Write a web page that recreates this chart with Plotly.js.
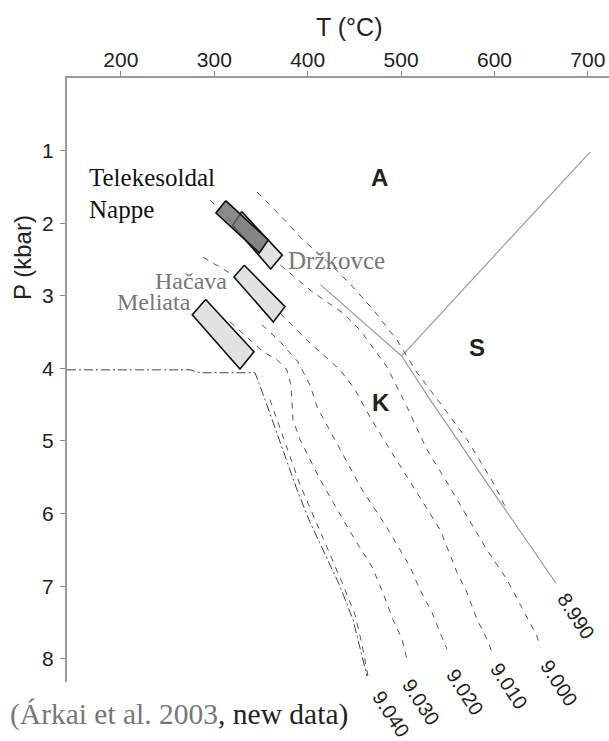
<!DOCTYPE html>
<html><head><meta charset="utf-8">
<script src="https://cdn.plot.ly/plotly-3.0.1.min.js"></script>
<style>html,body{margin:0;padding:0;background:#fff}#c{width:609px;height:741px}</style>
</head><body><div id="c"></div>
<script>
// ---- data (T in °C, P in kbar) ----
const T_ticks = [200, 300, 400, 500, 600, 700];
const P_ticks = [1, 2, 3, 4, 5, 6, 7, 8];

// Al2SiO5 phase boundaries (A = andalusite, K = kyanite, S = sillimanite)
const SA_T = [500.6, 702.3];               const SA_P = [3.83, 1.02];
const KA_T = [413.9, 500.6];               const KA_P = [2.85, 3.83];
const KS_T = [500.6, 531.0, 598.4, 665.9]; const KS_P = [3.83, 4.43, 5.70, 6.96];

// b0 isolines (Å)
const iso_labels = ["8.990", "9.000", "9.010", "9.020", "9.030", "9.040"];
const iso8990_T = [345.7, 370.3, 395.0, 427.1, 448.5, 469.9, 495.6, 517.0, 544.9, 570.6, 598.4, 611.3];
const iso8990_P = [1.57, 1.89, 2.23, 2.60, 2.88, 3.19, 3.61, 4.06, 4.53, 4.98, 5.57, 5.90];
const iso9000_T = [295.4, 320.0, 343.6, 368.2, 402.5, 437.8, 456.0, 484.9, 506.3, 527.7, 549.2, 570.6, 592.0, 613.4, 630.5, 645.5, 648.7];
const iso9000_P = [1.68, 2.00, 2.30, 2.55, 2.92, 3.24, 3.47, 3.98, 4.53, 5.12, 5.57, 6.04, 6.50, 6.91, 7.32, 7.69, 7.84];
const iso9010_T = [287.9, 308.2, 332.9, 370.3, 402.5, 434.6, 450.6, 466.7, 488.1, 514.9, 541.7, 559.9, 570.6, 581.3, 592.0, 597.3];
const iso9010_P = [2.47, 2.62, 2.82, 3.24, 3.65, 4.02, 4.29, 4.67, 5.12, 5.67, 6.22, 6.81, 7.09, 7.46, 7.73, 7.91];
const iso9020_T = [351.1, 370.3, 389.6, 402.5, 410.0, 434.6, 458.1, 482.8, 509.5, 520.2, 533.1, 541.7, 549.2];
const iso9020_P = [3.40, 3.63, 3.91, 4.23, 4.53, 5.12, 5.67, 6.15, 6.73, 7.05, 7.36, 7.64, 7.87];
const iso9030_T = [316.8, 335.0, 352.1, 367.1, 377.8, 382.1, 384.3, 391.7, 413.2, 434.6, 450.6, 468.8, 480.6, 491.3, 501.0, 506.3];
const iso9030_P = [3.36, 3.57, 3.77, 3.88, 4.02, 4.23, 4.71, 4.98, 5.53, 6.01, 6.36, 6.73, 7.09, 7.46, 7.73, 8.01];
const iso9040_T = [359.6, 375.7, 391.7, 407.8, 423.9, 437.8, 450.6, 458.1, 464.6];
const iso9040_P = [4.43, 5.02, 5.60, 6.08, 6.56, 6.98, 7.39, 7.80, 8.24];

// dash-dot limit line
const lim_T = [142.3, 274.0, 284.7, 343.6, 354.3, 370.3, 388.5, 402.5, 420.7, 434.6, 448.5, 463.5];
const lim_P = [4.02, 4.02, 4.06, 4.06, 4.43, 5.02, 5.67, 6.12, 6.63, 7.00, 7.46, 8.24];

// P-T boxes (rotated rectangles: top, right, bottom, left corner)
const box_names = ["Držkovce", "Telekesoldal Nappe", "Hačava", "Meliata"];
const drz_T = [329.3, 372.8, 360.4, 319.7, 329.3];  const drz_P = [1.84, 2.44, 2.63, 2.03, 1.84];
const tel_T = [312.2, 357.8, 348.2, 301.8, 312.2];  const tel_P = [1.69, 2.23, 2.41, 1.86, 1.69];
const hac_T = [332.1, 375.7, 363.2, 321.1, 332.1];  const hac_P = [2.58, 3.15, 3.36, 2.74, 2.58];
const mel_T = [290.8, 342.5, 327.5, 276.4, 290.8];  const mel_P = [3.05, 3.77, 4.01, 3.26, 3.05];

// ---- traces ----
const traces = [];
function line(x, y, color, width, dash) {
  traces.push({x: x, y: y, type: 'scatter', mode: 'lines', hoverinfo: 'skip',
    line: {color: color, width: width, dash: dash}, showlegend: false});
}
line(SA_T, SA_P, '#9a9a9a', 1.2, 'solid');
line(KA_T, KA_P, '#9a9a9a', 1.2, 'solid');
line(KS_T, KS_P, '#9a9a9a', 1.2, 'solid');
const isoT = [iso8990_T, iso9000_T, iso9010_T, iso9020_T, iso9030_T, iso9040_T];
const isoP = [iso8990_P, iso9000_P, iso9010_P, iso9020_P, iso9030_P, iso9040_P];
for (let i = 0; i < isoT.length; i++) line(isoT[i], isoP[i], '#555', 1, '6px,6px');
line(lim_T, lim_P, '#444', 1, '9px,3px,2px,3px');

function box(x, y, fill) {
  traces.push({x: x, y: y, type: 'scatter', mode: 'lines', fill: 'toself', fillcolor: fill,
    hoverinfo: 'skip', line: {color: '#111', width: 1.6}, showlegend: false});
}
box(drz_T, drz_P, '#e2e2e2');
box(tel_T, tel_P, 'rgba(105,105,105,0.78)');
box(hac_T, hac_P, '#e2e2e2');
box(mel_T, mel_P, '#e2e2e2');

// ---- layout ----
const W = 609, H = 741, ML = 67, MT = 78, MB = 59, MR = 0;
const PW = W - ML - MR, PH = H - MT - MB;
const px = x => (x - ML) / PW;
const py = y => (H - MB - y) / PH;
const serif = 'Liberation Serif, Times New Roman, serif';
const sans = 'Liberation Sans, Arial, sans-serif';
function ann(text, x, y, o) {
  return Object.assign({text: text, x: px(x), y: py(y), xref: 'paper', yref: 'paper',
    showarrow: false, xanchor: 'center', yanchor: 'middle'}, o || {});
}
const annotations = [
  ann('T (°C)', 349, 27, {font: {family: sans, size: 25, color: '#222'}}),
  ann('P (kbar)', 22, 258, {textangle: -90, font: {family: sans, size: 24, color: '#222'}}),
  ann('Telekesoldal', 87, 177, {xanchor: 'left', font: {family: serif, size: 25, color: '#111'}}),
  ann('Nappe', 87, 209, {xanchor: 'left', font: {family: serif, size: 25, color: '#111'}}),
  ann('Držkovce', 286, 260, {xanchor: 'left', font: {family: serif, size: 25, color: '#777'}}),
  ann('Hačava', 229, 281, {xanchor: 'right', font: {family: serif, size: 24, color: '#777'}}),
  ann('Meliata', 193, 302, {xanchor: 'right', font: {family: serif, size: 24, color: '#777'}}),
  ann('<b>A</b>', 379, 178, {font: {family: sans, size: 24, color: '#222'}}),
  ann('<b>S</b>', 477, 347, {font: {family: sans, size: 24, color: '#222'}}),
  ann('<b>K</b>', 381, 402, {font: {family: sans, size: 24, color: '#222'}}),
  ann('(Árkai et al. 2003<span style="color:#222">, new data)</span>', 8, 714,
      {xanchor: 'left', font: {family: serif, size: 29.5, color: '#777'}})
];
const labPos = [[576, 616], [559, 683], [509, 686], [465, 692], [421, 702], [391, 714]];
for (let i = 0; i < iso_labels.length; i++) {
  annotations.push(ann(iso_labels[i], labPos[i][0], labPos[i][1],
    {textangle: 57, font: {family: sans, size: 20, color: '#222'}}));
}

const axisCommon = {showgrid: false, zeroline: false, showline: true, linecolor: '#9a9a9a',
  linewidth: 2, ticks: 'outside', ticklen: 5, tickwidth: 1, tickcolor: '#888',
  tickfont: {family: sans, size: 21, color: '#222'}, fixedrange: true};
const layout = {
  width: W, height: H, margin: {l: ML, r: MR, t: MT, b: MB, pad: 0},
  paper_bgcolor: '#fff', plot_bgcolor: '#fff', showlegend: false,
  xaxis: Object.assign({}, axisCommon, {side: 'top', range: [142.3, 722.6], tickmode: 'array',
    tickvals: T_ticks, ticktext: T_ticks.map(String), ticklabelstandoff: -4}),
  yaxis: Object.assign({}, axisCommon, {range: [8.32, 0], tickmode: 'array',
    tickvals: P_ticks, ticktext: P_ticks.map(String), ticklabelstandoff: 2}),
  annotations: annotations
};
Plotly.newPlot('c', traces, layout, {displayModeBar: false, staticPlot: true});
</script></body></html>
